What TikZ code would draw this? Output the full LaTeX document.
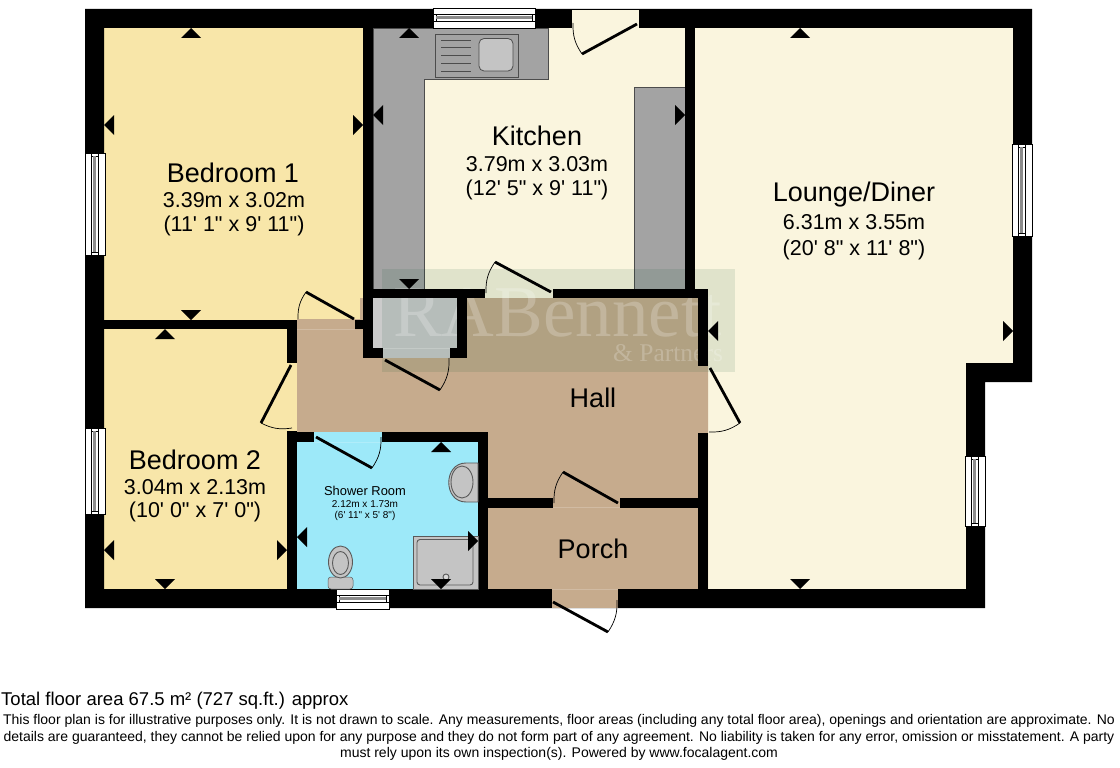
\documentclass[tikz,border=0pt]{standalone}
\usepackage{fontspec}
\setmainfont{Liberation Sans}[Ligatures=TeXOff]
\newfontfamily\wmfont{Liberation Serif}
\definecolor{bedcol}{HTML}{F8E6A9}
\definecolor{creamcol}{HTML}{FAF5DE}
\definecolor{tancol}{HTML}{C6AB8D}
\definecolor{showercol}{HTML}{9DE9F9}
\definecolor{countercol}{HTML}{A3A3A3}
\definecolor{fitcol}{HTML}{C4C4C4}
\definecolor{cupcol}{HTML}{CBCBCB}
\definecolor{wmcol}{RGB}{0,75,40}
\newcommand{\fsz}[1]{\fontsize{#1}{#1}\selectfont}
\tikzset{
  x=1pt,y=-1pt,
  wall/.style={fill=black,draw=none},
  leaf/.style={draw=black,line width=2.8pt},
  swing/.style={draw=black,line width=0.7pt},
  fitting/.style={fill=fitcol,draw=black!65,line width=0.9pt},
  winbox/.style={fill=white,draw=black,line width=0.6pt},
  title/.style={inner sep=0pt,anchor=center,text=black},
  sillline/.style={draw=white,opacity=0.2,line width=0.7pt},
}
\newcommand{\tup}[2]{\fill[black] (#1,#2) -- ++(-10,10) -- ++(20,0) -- cycle;}
\newcommand{\tdown}[2]{\fill[black] (#1,#2) -- ++(-10,-10) -- ++(20,0) -- cycle;}
\newcommand{\tleft}[2]{\fill[black] (#1,#2) -- ++(10,-10) -- ++(0,20) -- cycle;}
\newcommand{\tright}[2]{\fill[black] (#1,#2) -- ++(-10,-10) -- ++(0,20) -- cycle;}
\newcommand{\vwin}[4]{% x1 y1 x2 y2
  \draw[winbox] (#1,#2) rectangle (#3,#4);
  \draw[winbox] ({(#1+#3)/2-3.5},#2) rectangle ({(#1+#3)/2+3.5},#4);
  \draw[winbox] ({(#1+#3)/2-3.5},{#2+3}) rectangle ({(#1+#3)/2+3.5},{#4-3});
  \fill[black!45] ({(#1+#3)/2-2},{#2+3}) rectangle ({(#1+#3)/2+1},{#4-3});}
\newcommand{\hwin}[4]{%
  \draw[winbox] (#1,#2) rectangle (#3,#4);
  \draw[winbox] (#1,{(#2+#4)/2-3.5}) rectangle (#3,{(#2+#4)/2+3.5});
  \draw[winbox] ({#1+3},{(#2+#4)/2-3.5}) rectangle ({#3-3},{(#2+#4)/2+3.5});
  \fill[black!45] ({#1+3},{(#2+#4)/2-2}) rectangle ({#3-3},{(#2+#4)/2+1});}
\begin{document}
\begin{tikzpicture}
\useasboundingbox (0,0) rectangle (1120,768);
\fill[white] (0,0) rectangle (1120,768);
% rooms
\fill[bedcol] (100,25) rectangle (365,322);
\fill[bedcol] (100,325) rectangle (297,592);
\fill[creamcol] (365,25) rectangle (700,298);
\fill[creamcol] (690,25) rectangle (1016,366);
\fill[creamcol] (700,280) rectangle (970,592);
\fill[tancol] (297,319) -- (360,319) -- (360,298) -- (708,298) -- (708,592) -- (483,592) -- (483,437) -- (297,437) -- cycle;
\fill[showercol] (292,432) rectangle (483,592);
\fill[cupcol] (368,298) rectangle (462,358);
% counters
\draw[fill=countercol,draw=black!70,line width=0.8pt] (373,28) -- (548,28) -- (548,79) -- (424,79) -- (424,289) -- (373,289) -- cycle;
\draw[fill=countercol,draw=black!70,line width=0.8pt] (634,289) -- (634,87) -- (685,87) -- (685,289) -- cycle;
\draw[fill=countercol,draw=black!70,line width=0.8pt] (435,34) rectangle (518,77);
\draw[fill=fitcol,draw=black!70,line width=0.8pt,rounded corners=5pt] (479,38.5) rectangle (513,71);
\foreach \yy in {40,47.5,55,63,71}{\draw[black!70,line width=0.9pt] (441,\yy) -- (471,\yy);}
% watermark panel and lettering
\fill[wmcol,opacity=0.1] (382,269) rectangle (735,372);
\node[inner sep=0pt,anchor=base west,text=white,opacity=0.22] (wm1) at (393,336) {\wmfont\fsz{73}RABennett};
\node[inner sep=0pt,anchor=base west,text=white,opacity=0.22] (wm2) at (613,361) {\wmfont\fsz{25.5}\& Partners};
% walls
\fill[wall,even odd rule] (85,9) -- (1032,9) -- (1032,382) -- (985,382) -- (985,608) -- (85,608) -- cycle
  (104,28) -- (104,589) -- (966,589) -- (966,363) -- (1013,363) -- (1013,28) -- cycle;
\fill[wall] (363,28) rectangle (373,298);
\fill[wall] (685,28) rectangle (695,298);
\fill[wall] (104,319.5) rectangle (297,329);
\fill[wall] (287,319.5) rectangle (297,363);
\fill[wall] (355,319.5) rectangle (373,329);
\fill[wall] (363,289) rectangle (485,298);
\fill[wall] (553,289) rectangle (708,298);
\fill[wall] (363,298) rectangle (373,358);
\fill[wall] (363,348) rectangle (383,358);
\fill[wall] (457,298) rectangle (467,358);
\fill[wall] (450,348) rectangle (467,358);
\fill[wall] (698,289) rectangle (708,366);
\fill[wall] (698,433) rectangle (708,589);
\fill[wall] (287,431) rectangle (297,589);
\fill[wall] (287,432) rectangle (314,442);
\fill[wall] (382,432) rectangle (488,442);
\fill[wall] (478,432) rectangle (488,589);
\fill[wall] (488,498) rectangle (553,508);
\fill[wall] (620,498) rectangle (698,508);
% door openings in outer walls
\fill[creamcol] (572,10) rectangle (639,28);
\fill[tancol] (552,589) rectangle (618,608);
% sills
\draw[sillline] (297,329) -- (355,329);
\draw[sillline] (553,507.5) -- (620,507.5);
\draw[sillline] (552,589.5) -- (618,589.5);
\draw[sillline] (314,442) -- (382,442);
\draw[sillline] (383,348) -- (450,348);
% doors
\draw[leaf] (582,54) -- (637,24);  \draw[swing] (573,23) to[bend right=18] (582,54);
\draw[leaf] (495,262) -- (551,292); \draw[swing] (486,293) to[bend left=18] (495,262);
\draw[leaf] (306,292) -- (354,319); \draw[swing] (298,319) to[bend left=18] (306,292);
\draw[leaf] (291,365) -- (261,423); \draw[swing] (261,423) to[bend right=18] (292,428);
\draw[leaf] (385,360) -- (440,390); \draw[swing] (440,390) to[bend right=18] (449,358);
\draw[leaf] (316,437) -- (372,468); \draw[swing] (372,468) to[bend right=18] (381,437);
\draw[leaf] (710,368) -- (740,423); \draw[swing] (740,423) to[bend left=18] (709,432);
\draw[leaf] (563,472) -- (618,503); \draw[swing] (554,503) to[bend left=18] (563,472);
\draw[leaf] (553,602) -- (608,632); \draw[swing] (608,632) to[bend right=18] (617,600);
% windows
\vwin{85}{153}{105}{255}
\vwin{85}{428}{105}{514}
\vwin{1012}{144}{1032}{236}
\vwin{965}{456}{985}{526}
\hwin{433}{8.5}{535}{28}
\hwin{336}{589}{389}{609}
% shower fittings
\draw[fitting] (413,536) rectangle (478,589);
\draw[fitting,rounded corners=3pt] (417,539.5) rectangle (473,585);
\draw[fitting,fill=white!85!black] (446,577) circle (3);
\draw[fitting] (478,463) -- (466,463) .. controls (443,463) and (443,502) .. (466,502) -- (478,502) -- cycle;
\draw[fitting] (462,482) ellipse [x radius=11,y radius=16];
\draw[fitting,rounded corners=3pt,line width=0.5pt] (328,589) -- (328,577) -- (353,577) -- (353,589) -- cycle;
\draw[fitting] (340.5,562) ellipse [x radius=12,y radius=16];
\draw[fitting] (340.5,563) ellipse [x radius=8,y radius=11.5];
% markers
\tup{191}{28}\tdown{191}{320}\tleft{104}{125}\tright{363}{125}
\tup{409}{28}\tdown{409}{289}\tleft{373}{115}\tright{685}{115}
\tup{800}{28}\tdown{800}{589}\tleft{708}{331}\tright{1013}{331}
\tup{165}{329}\tdown{165}{589}\tleft{104}{550}\tright{287}{550}
\tup{441}{442}\tdown{441}{589}\tleft{297}{537}\tright{478}{541}
% labels
\node[title] (b1a) at (233,173) {\fsz{27}Bedroom 1};
\node[title] (b1b) at (234,200) {\fsz{21.5}3.39m x 3.02m};
\node[title] (b1c) at (234,226) {\fsz{21.5}(11' 1" x 9' 11")};
\node[title] (ka) at (537,136) {\fsz{27}Kitchen};
\node[title] (kb) at (537,164) {\fsz{21.5}3.79m x 3.03m};
\node[title] (kc) at (537,190) {\fsz{21.5}(12' 5" x 9' 11")};
\node[title] (la) at (854,195) {\fsz{27}Lounge/Diner};
\node[title] (lb) at (854,222) {\fsz{21.5}6.31m x 3.55m};
\node[title] (lc) at (854,250) {\fsz{21.5}(20' 8" x 11' 8")};
\node[title] (b2a) at (195,460) {\fsz{27}Bedroom 2};
\node[title] (b2b) at (195,487) {\fsz{21.5}3.04m x 2.13m};
\node[title] (b2c) at (195,512) {\fsz{21.5}(10' 0" x 7' 0")};
\node[title] (sa) at (365,491) {\fsz{12.9}Shower Room};
\node[title] (sb) at (365,504) {\fsz{10}2.12m x 1.73m};
\node[title] (sc) at (365,516) {\fsz{10}(6' 11" x 5' 8")};
\node[title] (ha) at (593,398) {\fsz{27}Hall};
\node[title] (pa) at (593,549) {\fsz{27}Porch};
\node[title,anchor=west] (ta) at (1,701) {\fsz{18.5}Total floor area 67.5 m² (727 sq.ft.) approx};
\node[title] (d1) at (559,721) {\fsz{14}This floor plan is for illustrative purposes only. It is not drawn to scale. Any measurements, floor areas (including any total floor area), openings and orientation are approximate. No};
\node[title] (d2) at (559,737.5) {\fsz{14}details are guaranteed, they cannot be relied upon for any purpose and they do not form part of any agreement. No liability is taken for any error, omission or misstatement. A party};
\node[title] (d3) at (559,754) {\fsz{14}must rely upon its own inspection(s). Powered by www.focalagent.com};
\end{tikzpicture}
\end{document}
